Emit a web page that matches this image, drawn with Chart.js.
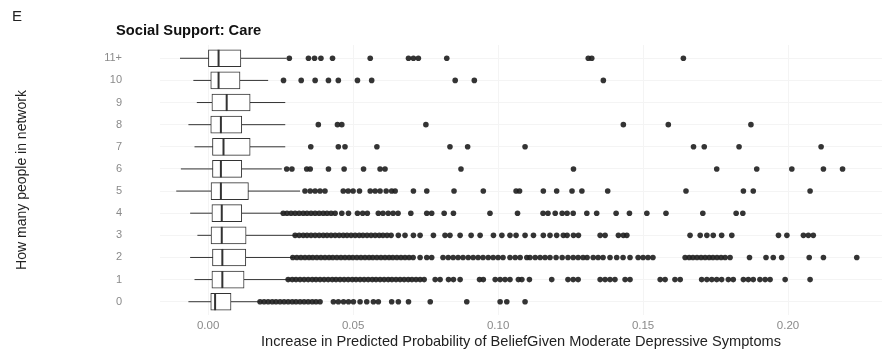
<!DOCTYPE html>
<html>
<head>
<meta charset="utf-8">
<script src="https://cdn.jsdelivr.net/npm/chart.js@4"></script>
<style>
  body { margin: 0; background: #fff; font-family: "Liberation Sans", Arial, sans-serif; }
  #wrap { position: relative; width: 882px; height: 356px; }
  #panel { position: absolute; left: 12px; top: 7px; font-size: 15px; color: #222; }
  #title { position: absolute; left: 116px; top: 22px; font-size: 14.7px; font-weight: bold; color: #111; }
</style>
</head>
<body>
<div id="wrap">
  <canvas id="chart" width="882" height="356"></canvas>
  <div id="panel">E</div>
  <div id="title">Social Support: Care</div>
</div>
<script>
const rows = ['0', '1', '2', '3', '4', '5', '6', '7', '8', '9', '10', '11+'];
const xTicks = [0, 0.05, 0.10, 0.15, 0.20];

// box stats per row (index 0..11)
const whiskerLow  = [-0.0068, -0.0047, -0.0062, -0.0037, -0.0062, -0.0110, -0.0094, -0.0047, -0.0068, -0.0039, -0.0051, -0.0097];
const q1          = [0.0009, 0.0013, 0.0015, 0.0010, 0.0013, 0.0010, 0.0015, 0.0015, 0.0009, 0.0013, 0.0009, 0.0001];
const median      = [0.0024, 0.0049, 0.0049, 0.0047, 0.0047, 0.0044, 0.0044, 0.0053, 0.0044, 0.0064, 0.0036, 0.0036];
const q3          = [0.0079, 0.0124, 0.0130, 0.0131, 0.0116, 0.0139, 0.0116, 0.0145, 0.0116, 0.0145, 0.0110, 0.0113];
const whiskerHigh = [0.0179, 0.0283, 0.0294, 0.0306, 0.0260, 0.0317, 0.0254, 0.0266, 0.0266, 0.0266, 0.0207, 0.0270];

// outliers per row
const out0 = [0.0179, 0.0193, 0.0207, 0.0221, 0.0234, 0.0248, 0.0262, 0.0276, 0.0290, 0.0303, 0.0317, 0.0331, 0.0345, 0.0359, 0.0372, 0.0386,
  0.0432, 0.0449, 0.0467, 0.0484, 0.0501, 0.0524, 0.0547, 0.0570, 0.0587, 0.0633, 0.0656, 0.0691, 0.0766, 0.0892, 0.1007, 0.1030, 0.1093];
const out1 = [0.0276, 0.0290, 0.0303, 0.0317, 0.0331, 0.0345, 0.0359, 0.0372, 0.0386, 0.0400, 0.0414, 0.0428, 0.0441, 0.0455, 0.0469, 0.0483,
  0.0497, 0.0510, 0.0524, 0.0538, 0.0552, 0.0566, 0.0579, 0.0593, 0.0607, 0.0621, 0.0634, 0.0648, 0.0662, 0.0676, 0.0690, 0.0703, 0.0717,
  0.0731, 0.0745, 0.0783, 0.0800, 0.0829, 0.0846, 0.0869, 0.0936, 0.0949, 0.0990, 0.1007, 0.1024, 0.1041, 0.1070, 0.1082, 0.1108, 0.1185,
  0.1241, 0.1259, 0.1276, 0.1352, 0.1369, 0.1386, 0.1403, 0.1438, 0.1455, 0.1559, 0.1576, 0.1610, 0.1628, 0.1702, 0.1720, 0.1737, 0.1754,
  0.1771, 0.1794, 0.1811, 0.1846, 0.1863, 0.1880, 0.1903, 0.1921, 0.1938, 0.1990, 0.2076];
const out2 = [0.0292, 0.0306, 0.0320, 0.0334, 0.0348, 0.0361, 0.0375, 0.0389, 0.0403, 0.0417, 0.0430, 0.0444, 0.0458, 0.0472, 0.0486, 0.0499,
  0.0513, 0.0527, 0.0541, 0.0555, 0.0568, 0.0582, 0.0596, 0.0610, 0.0624, 0.0637, 0.0651, 0.0665, 0.0679, 0.0693, 0.0707, 0.0731, 0.0754,
  0.0771, 0.0810, 0.0828, 0.0845, 0.0862, 0.0879, 0.0897, 0.0914, 0.0931, 0.0948, 0.0966, 0.0983, 0.1000, 0.1017, 0.1041, 0.1059, 0.1076,
  0.1099, 0.1110, 0.1128, 0.1145, 0.1162, 0.1179, 0.1200, 0.1221, 0.1241, 0.1259, 0.1276, 0.1293, 0.1307, 0.1328, 0.1345, 0.1362, 0.1386,
  0.1409, 0.1431, 0.1455, 0.1483, 0.1500, 0.1517, 0.1534, 0.1645, 0.1659, 0.1672, 0.1686, 0.1700, 0.1714, 0.1728, 0.1741, 0.1755, 0.1769,
  0.1783, 0.1800, 0.1867, 0.1924, 0.1949, 0.1978, 0.2073, 0.2122, 0.2237];
const out3 = [0.0300, 0.0314, 0.0328, 0.0341, 0.0355, 0.0369, 0.0383, 0.0397, 0.0410, 0.0424, 0.0438, 0.0452, 0.0466, 0.0479, 0.0493, 0.0507,
  0.0521, 0.0534, 0.0548, 0.0562, 0.0576, 0.0590, 0.0603, 0.0617, 0.0631, 0.0656, 0.0679, 0.0708, 0.0731, 0.0777, 0.0817, 0.0834, 0.0869,
  0.0907, 0.0938, 0.0984, 0.1013, 0.1041, 0.1062, 0.1093, 0.1122, 0.1156, 0.1179, 0.1202, 0.1225, 0.1238, 0.1260, 0.1277, 0.1352, 0.1369,
  0.1415, 0.1432, 0.1444, 0.1662, 0.1697, 0.1720, 0.1742, 0.1771, 0.1806, 0.1967, 0.1996, 0.2053, 0.2070, 0.2087];
const out4 = [0.0259, 0.0272, 0.0286, 0.0300, 0.0314, 0.0328, 0.0341, 0.0355, 0.0369, 0.0383, 0.0397, 0.0410, 0.0424, 0.0438, 0.0461, 0.0484,
  0.0515, 0.0533, 0.0549, 0.0587, 0.0603, 0.0621, 0.0638, 0.0655, 0.0699, 0.0754, 0.0771, 0.0814, 0.0846, 0.0972, 0.1067, 0.1155, 0.1172,
  0.1197, 0.1221, 0.1238, 0.1259, 0.1306, 0.1340, 0.1407, 0.1453, 0.1513, 0.1579, 0.1706, 0.1821, 0.1844];
const out5 = [0.0334, 0.0352, 0.0369, 0.0386, 0.0403, 0.0466, 0.0483, 0.0500, 0.0522, 0.0559, 0.0576, 0.0593, 0.0614, 0.0633, 0.0645, 0.0708,
  0.0754, 0.0848, 0.0949, 0.1062, 0.1074, 0.1156, 0.1202, 0.1255, 0.1289, 0.1378, 0.1648, 0.1846, 0.1880, 0.2076];
const out6 = [0.0271, 0.0289, 0.0340, 0.0352, 0.0415, 0.0469, 0.0536, 0.0593, 0.0610, 0.0872, 0.1260, 0.1754, 0.1892, 0.2013, 0.2122, 0.2188];
const out7 = [0.0354, 0.0449, 0.0472, 0.0582, 0.0834, 0.0895, 0.1093, 0.1674, 0.1711, 0.1831, 0.2114];
const out8 = [0.0380, 0.0446, 0.0461, 0.0751, 0.1432, 0.1587, 0.1872];
const out9 = [];
const out10 = [0.0260, 0.0321, 0.0369, 0.0415, 0.0449, 0.0515, 0.0564, 0.0852, 0.0918, 0.1363];
const out11 = [0.0280, 0.0346, 0.0367, 0.0389, 0.0429, 0.0559, 0.0691, 0.0708, 0.0725, 0.0823, 0.1311, 0.1323, 0.1639];
const outliers = [out0, out1, out2, out3, out4, out5, out6, out7, out8, out9, out10, out11];

const ink = '#333333';
const fontFamily = '"Liberation Sans", Arial, sans-serif';

const whiskerSets = rows.map((r, i) => ({
    type: 'line',
    data: [{ x: whiskerLow[i], y: i }, { x: whiskerHigh[i], y: i }],
    borderColor: ink,
    borderWidth: 1,
    pointRadius: 0,
    order: 4
}));

const datasets = whiskerSets.concat([
    {
        type: 'bar',
        indexAxis: 'y',
        data: rows.map((r, i) => ({ x: [q1[i], q3[i]], y: i })),
        backgroundColor: '#ffffff',
        borderColor: ink,
        borderWidth: 1,
        borderSkipped: false,
        barThickness: 17,
        order: 3
    },
    {
        type: 'scatter',
        data: rows.map((r, i) => ({ x: median[i], y: i })),
        pointStyle: 'line',
        rotation: 90,
        pointRadius: 8.5,
        borderWidth: 2,
        borderColor: ink,
        order: 2
    },
    {
        type: 'scatter',
        data: outliers.flatMap((vals, i) => vals.map(v => ({ x: v, y: i }))),
        pointRadius: 2.8,
        backgroundColor: 'rgba(30,30,30,0.9)',
        borderWidth: 0,
        order: 1
    }
]);

new Chart(document.getElementById('chart'), {
    type: 'scatter',
    data: { datasets: datasets },
    options: {
        responsive: false,
        animation: false,
        events: [],
        layout: { autoPadding: false, padding: { top: 45, right: 0, left: 0, bottom: 0 } },
        plugins: { legend: { display: false }, tooltip: { enabled: false } },
        scales: {
            x: {
                type: 'linear',
                min: -0.0166,
                max: 0.2324,
                offset: false,
                afterBuildTicks: axis => { axis.ticks = xTicks.map(v => ({ value: v })); },
                afterFit: axis => { axis.height = 41; },
                border: { display: false },
                grid: { color: '#f4f4f4', drawTicks: false, offset: false },
                ticks: { color: '#8a8a8a', font: { family: fontFamily, size: 11.5 }, padding: 4, callback: v => v.toFixed(2) },
                title: {
                    display: true,
                    text: 'Increase in Predicted Probability of BeliefGiven Moderate Depressive Symptoms',
                    color: '#222',
                    font: { family: fontFamily, size: 14.6 },
                    padding: { top: 0, bottom: 5 }
                }
            },
            y: {
                type: 'linear',
                min: -0.6,
                max: 11.6,
                offset: false,
                afterBuildTicks: axis => { axis.ticks = rows.map((r, i) => ({ value: i })); },
                afterFit: axis => { axis.width = 160; },
                border: { display: false },
                grid: { color: '#f4f4f4', drawTicks: true, tickLength: 38, tickColor: 'rgba(0,0,0,0)', offset: false },
                ticks: { color: '#8a8a8a', font: { family: fontFamily, size: 11 }, padding: 0, callback: v => rows[v] },
                title: {
                    display: true,
                    text: 'How many people in network',
                    color: '#222',
                    font: { family: fontFamily, size: 14 },
                    padding: { top: 14, bottom: 0 }
                }
            }
        }
    }
});
</script>
</body>
</html>
